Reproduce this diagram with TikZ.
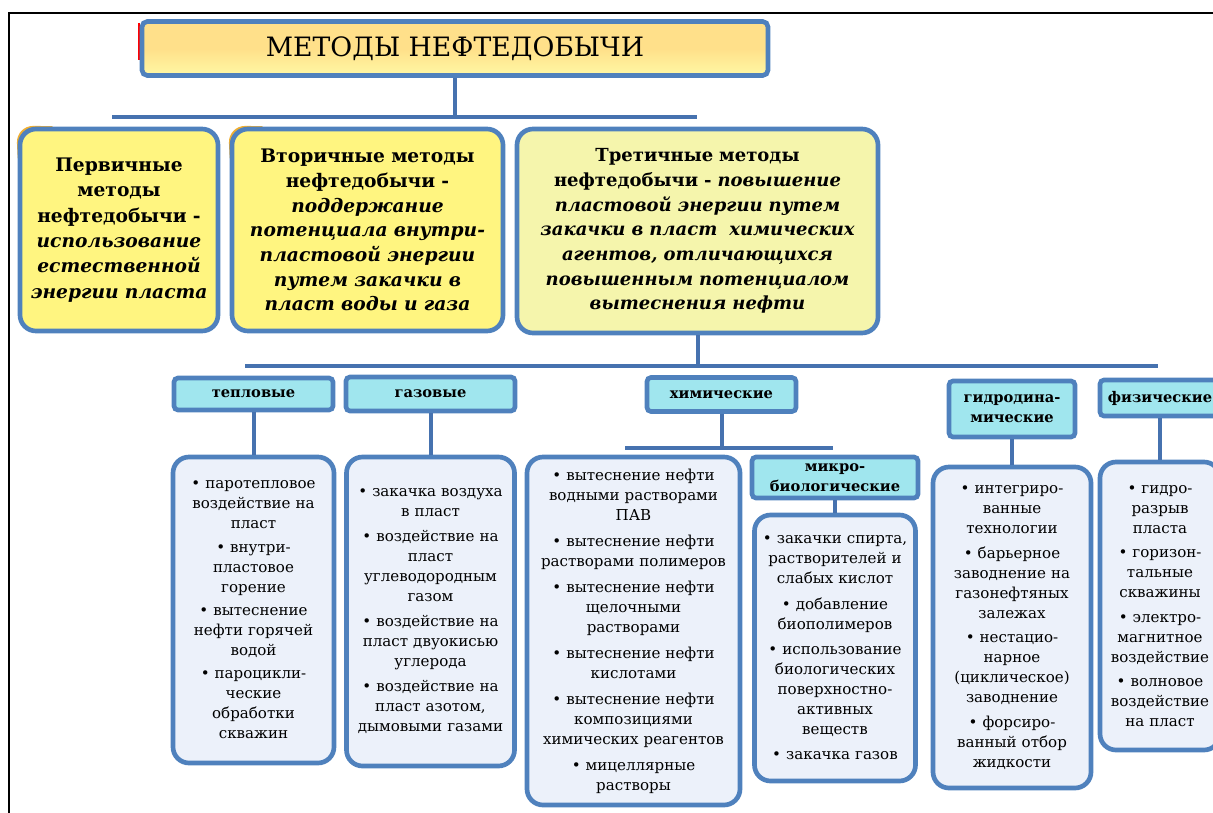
\documentclass[tikz,border=0pt]{standalone}
\usepackage{fontspec}
\setmainfont{DejaVu Serif}
\definecolor{mblue}{RGB}{79,129,189}
\definecolor{cblue}{RGB}{70,114,175}
\definecolor{ttop}{RGB}{255,224,138}
\definecolor{tbot}{RGB}{255,248,165}
\definecolor{yfill}{RGB}{255,245,128}
\definecolor{yfillb}{RGB}{245,245,172}
\definecolor{mcyan}{RGB}{160,230,238}
\definecolor{mlist}{RGB}{236,241,250}
\definecolor{glow}{RGB}{240,175,50}
\begin{document}
\begin{tikzpicture}[x=0.75pt,y=-0.75pt]
\tikzset{
  bord/.style={draw=mblue, line width=3.5pt},
  titlebox/.style={bord, rounded corners=4pt, top color=ttop, bottom color=tbot, middle color=ttop, inner sep=0pt, font=\fontsize{20}{24}\selectfont},
  lvlbox/.style={bord, rounded corners=12pt, fill=yfill, inner sep=0pt, align=center},
  catbox/.style={bord, rounded corners=3pt, fill=mcyan, inner sep=0pt, align=center, font=\fontsize{11}{15}\selectfont\bfseries},
  listbox/.style={bord, rounded corners=12pt, fill=mlist, inner sep=0pt, align=center, font=\fontsize{11.3}{15}\selectfont},
  conn/.style={draw=cblue, line width=3pt},
  glowline/.style={draw=glow, line width=2pt, rounded corners=12pt, line cap=round},
}
\useasboundingbox (0,0) rectangle (1213,813);
% frame
\draw[black, line width=1.6pt] (9,813) -- (9,13) -- (1213,13);
% title
\draw[red, line width=1.5pt] (139,23) -- (139,60);
\node[titlebox, minimum width=469.5pt, minimum height=40.5pt] (title) at (455,48.5) {МЕТОДЫ НЕФТЕДОБЫЧИ};
% level 2 (orange edge at top-left)
\draw[glowline] (19,158) -- (17.5,127) -- (52,127.5);
\draw[glowline] (231,158) -- (229.5,127) -- (262,127.5);
\node[lvlbox, minimum width=148.5pt, minimum height=151.5pt, text width=140pt,
  font=\fontsize{14}{19}\selectfont\bfseries] (t1) at (119,230)
  {Первичные\\методы\\нефтедобычи -\\\itshape использование\\естественной\\энергии пласта};
\node[lvlbox, minimum width=203.25pt, minimum height=151.5pt, text width=195pt,
  font=\fontsize{14}{18.5}\selectfont\bfseries] (t2) at (367.5,230)
  {Вторичные методы\\нефтедобычи -\\\itshape поддержание\\потенциала внутри-\\пластовой энергии\\путем закачки в\\пласт воды и газа};
\node[lvlbox, fill=yfillb, minimum width=270.75pt, minimum height=153pt, text width=262pt,
  font=\fontsize{13.5}{18.5}\selectfont\bfseries] (t3) at (697.5,231)
  {Третичные методы\\нефтедобычи - \itshape повышение\\пластовой энергии путем\\закачки в пласт~ химических\\агентов, отличающихся\\повышенным потенциалом\\вытеснения нефти};
% bar 1
\coordinate (b1L) at (112,117);
\coordinate (b1R) at (697,117);
\draw[conn] (title.south) -- (title.south |- b1L);
\draw[conn] (b1L) -- (b1R);
% bar 2
\coordinate (b2L) at (245,366);
\coordinate (b2R) at (1158,366);
\draw[conn] (t3.south) -- (t3.south |- b2L);
\draw[conn] (b2L) -- (b2R);
% categories
\node[catbox, minimum width=119.25pt, minimum height=24pt] (tep) at (253.5,394) {тепловые};
\node[catbox, minimum width=126.75pt, minimum height=25.5pt] (gaz) at (430.5,394) {газовые};
\node[catbox, minimum width=111.75pt, minimum height=25.5pt] (chem) at (721.5,394.5) {химические};
\node[catbox, minimum width=94.5pt, minimum height=42pt] (hyd) at (1012,409) {гидродина-\\мические};
\node[catbox, minimum width=90pt, minimum height=27pt] (fiz) at (1160,398) {физические};
% lists
\node[listbox, minimum width=120.75pt, minimum height=229.5pt, text width=116pt] (tepL) at (253.5,610)
  {• паротепловое\\воздействие на\\пласт\\[2.5pt]
   • внутри-\\пластовое\\горение\\[2.5pt]
   • вытеснение\\нефти горячей\\водой\\[2.5pt]
   • пароцикли-\\ческие\\обработки\\скважин};
\node[listbox, minimum width=126pt, minimum height=231.75pt, text width=122pt] (gazL) at (430.5,611.5)
  {• закачка воздуха\\в пласт\\[3.75pt]
   • воздействие на\\пласт\\углеводородным\\газом\\[3.75pt]
   • воздействие на\\пласт двуокисью\\углерода\\[3.75pt]
   • воздействие на\\пласт азотом,\\дымовыми газами};
\node[listbox, minimum width=159.75pt, minimum height=261pt, text width=155pt] (chemL) at (633.5,631)
  {• вытеснение нефти\\водными растворами\\ПАВ\\[4.5pt]
   • вытеснение нефти\\растворами полимеров\\[4.5pt]
   • вытеснение нефти\\щелочными\\растворами\\[4.5pt]
   • вытеснение нефти\\кислотами\\[4.5pt]
   • вытеснение нефти\\композициями\\химических реагентов\\[4.5pt]
   • мицеллярные\\растворы};
\coordinate (b3L) at (625,448);
\coordinate (b3R) at (833,448);
\draw[conn] (chem.south) -- (chem.south |- b3L);
\draw[conn] (b3L) -- (b3R);
\node[catbox, minimum width=124.5pt, minimum height=30.75pt] (mic) at (835,477.5) {микро-\\биологические};
\node[listbox, minimum width=120.75pt, minimum height=199.5pt, text width=118pt] (micL) at (835,648)
  {• закачки спирта,\\растворителей и\\слабых кислот\\[4pt]
   • добавление\\биополимеров\\[4pt]
   • использование\\биологических\\поверхностно-\\активных\\веществ\\[4pt]
   • закачка газов};
\node[listbox, minimum width=118.5pt, minimum height=240.75pt, text width=115pt] (hydL) at (1012,627.5)
  {• интегриро-\\ванные\\технологии\\[3.5pt]
   • барьерное\\заводнение на\\газонефтяных\\залежах\\[3.5pt]
   • нестацио-\\нарное\\(циклическое)\\заводнение\\[3.5pt]
   • форсиро-\\ванный отбор\\жидкости};
\node[listbox, minimum width=90pt, minimum height=216pt, text width=88pt] (fizL) at (1160,606)
  {• гидро-\\разрыв\\пласта\\[3.25pt]
   • горизон-\\тальные\\скважины\\[3.25pt]
   • электро-\\магнитное\\воздействие\\[3.25pt]
   • волновое\\воздействие\\на пласт};
\draw[conn] (tep.south) -- (tepL.north);
\draw[conn] (gaz.south) -- (gazL.north);
\draw[conn] (mic.south) -- (micL.north);
\draw[conn] (hyd.south) -- (hydL.north);
\draw[conn] (fiz.south) -- (fizL.north);
\end{tikzpicture}
\end{document}
